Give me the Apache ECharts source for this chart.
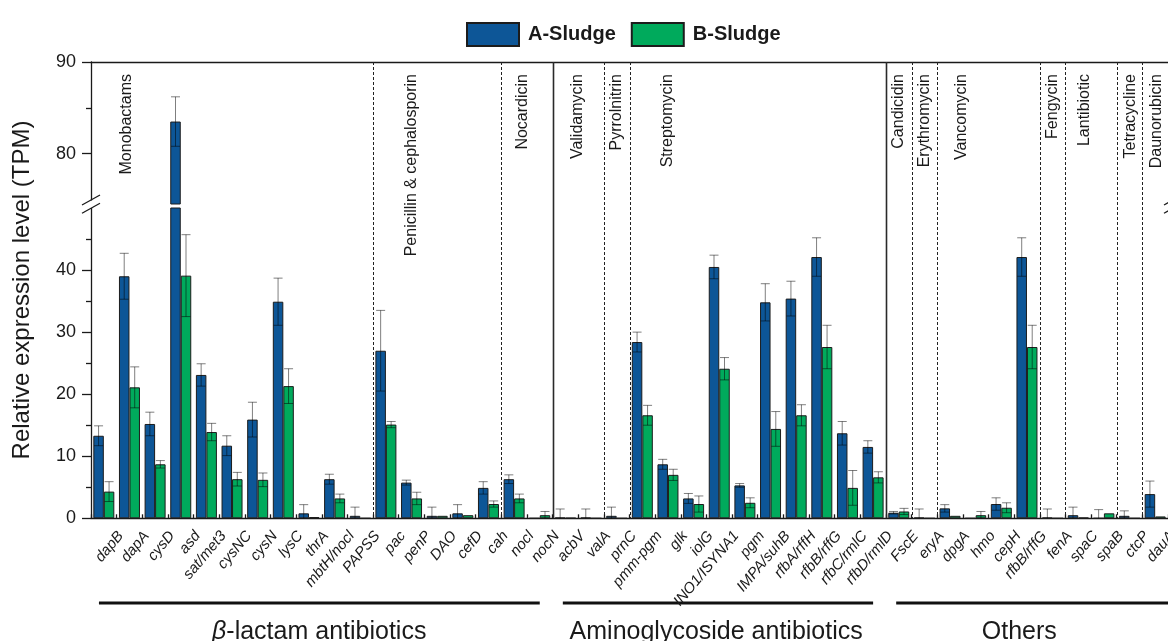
<!DOCTYPE html>
<html>
<head>
<meta charset="utf-8">
<script src="https://cdn.jsdelivr.net/npm/echarts@6/dist/echarts.min.js"></script>
<style>
  html, body { margin: 0; padding: 0; background: #fff; }
  #chart { width: 1168px; height: 641px; }
</style>
</head>
<body>
<div id="chart"></div>
<script>
// Genes (x categories)
const genes = [
  'dapB', 'dapA', 'cysD', 'asd', 'sat/met3', 'cysNC', 'cysN', 'lysC', 'thrA', 'mbtH/nocl', 'PAPSS',
  'pac', 'penP', 'DAO', 'cefD', 'cah',
  'nocl', 'nocN',
  'acbV', 'valA',
  'prnC',
  'pmm-pgm', 'glk', 'iolG', 'INO1/ISYNA1', 'pgm', 'IMPA/suhB', 'rfbA/rffH', 'rfbB/rffG', 'rfbC/rmlC', 'rfbD/rmlD',
  'FscE',
  'eryA',
  'dpgA', 'hmo', 'cepH', 'rfbB/rffG',
  'fenA',
  'spaC', 'spaB',
  'ctcP',
  'dauA'
];

// Relative expression level (TPM), mean and error
const sludgeA = [
  13.3, 39.0, 15.2, 83.5, 23.1, 11.7, 15.9, 34.9, 0.8, 6.3, 0.4,
  27.0, 5.75, 0.4, 0.8, 4.9,
  6.3, 0,
  0.1, 0.1,
  0.4,
  28.4, 8.7, 3.2, 40.5, 5.3, 34.8, 35.4, 42.1, 13.7, 11.5,
  0.9,
  0.1,
  1.6, 0, 2.3, 42.1,
  0.1,
  0.5, 0,
  0.4,
  3.9
];
const sludgeAErr = [
  1.6, 3.7, 1.9, 2.7, 1.8, 1.6, 2.8, 3.8, 1.4, 0.8, 1.4,
  6.5, 0.4, 1.4, 1.4, 1.0,
  0.7, 0,
  1.4, 1.4,
  1.4,
  1.6, 0.8, 0.8, 1.9, 0.3, 3.0, 2.8, 3.1, 1.9, 1.0,
  0.2,
  1.4,
  0.6, 0, 1.0, 3.1,
  1.4,
  1.3, 1.4,
  0.8,
  2.1
];
const sludgeB = [
  4.3, 21.1, 8.7, 39.1, 13.9, 6.3, 6.2, 21.3, 0.2, 3.2, 0,
  15.1, 3.2, 0.4, 0.5, 2.3,
  3.2, 0.5,
  0.05, 0,
  0,
  16.6, 7.0, 2.3, 24.1, 2.5, 14.4, 16.6, 27.6, 4.9, 6.6,
  1.1,
  0,
  0.4, 0.5, 1.7, 27.6,
  0,
  0.1, 0.8,
  0,
  0.3
];
const sludgeBErr = [
  1.6, 3.3, 0.6, 6.6, 1.4, 1.1, 1.1, 2.8, 0, 0.7, 0,
  0.5, 1.0, 0, 0, 0.5,
  0.7, 0.6,
  0, 0,
  0,
  1.6, 0.9, 1.3, 1.8, 0.8, 2.8, 1.7, 3.5, 2.8, 0.9,
  0.5,
  0,
  0, 0.6, 0.8, 3.5,
  0,
  0, 0,
  0,
  0
];

// Y ticks for the two parts of the broken axis
const lowerTicks = [0, 10, 20, 30, 40];
const lowerMinorTicks = [5, 15, 25, 35, 45];
const upperTicks = [80, 90];
const upperMinorTicks = [85];

// Antibiotic families: name, first gene index
const familyNames = ['Monobactams', 'Penicillin & cephalosporin', 'Nocardicin', 'Validamycin', 'Pyrrolnitrin',
  'Streptomycin', 'Candicidin', 'Erythromycin', 'Vancomycin', 'Fengycin', 'Lantibiotic', 'Tetracycline', 'Daunorubicin'];
const familyFirst = [0, 11, 16, 18, 20, 21, 31, 32, 33, 37, 38, 40, 41];

// Antibiotic classes
const classNames = ['β-lactam antibiotics', 'Aminoglycoside antibiotics', 'Others'];
const classFirst = [0, 18, 31];

// ---- layout ----
const GRID_LEFT = 91;
const PLOT_W = 1082;
const UPPER = { top: 62, bottom: 204, min: 74.5, max: 90 };
const LOWER = { top: 208, bottom: 518.3, min: 0, max: 50 };
const BAR_W = 10.5;
const BLUE = '#0d5697';
const GREEN = '#00aa5c';
const INK = '#1a1a1a';
const FONT = 'Arial, "Liberation Sans", Helvetica, sans-serif';
// caption position inside each family span, in category bands from the span start
const familyLabelOffset = [1.4, 1.5, 0.85, 0.98, 0.5, 1.48, 0.48, 0.5, 0.97, 0.5, 0.74, 0.53, 0.54];
// class bracket lines and caption centres, in category bands
const classLineStart = [0.31, 18.4, 31.4];
const classLineEnd = [17.5, 30.5, 44];
const classTextCentre = [8.9, 24.38, 36.2];

const chart = echarts.init(document.getElementById('chart'));

function errorBars(name, values, errs, side, axisIdx, yIdx) {
  const data = [];
  values.forEach((v, i) => { if (errs[i] > 0) data.push([i, v, errs[i]]); });
  return {
    type: 'custom',
    name: name,
    xAxisIndex: axisIdx,
    yAxisIndex: yIdx,
    clip: true,
    silent: true,
    z: 3,
    data: data,
    renderItem(params, api) {
      const i = api.value(0), v = api.value(1), e = api.value(2);
      const x = api.coord([i, v])[0] + side * BAR_W / 2;
      const yTop = api.coord([i, v + e])[1];
      const yBot = api.coord([i, v - e])[1];
      const cap = 4.5;
      const style = { stroke: 'rgba(0,0,0,0.5)', lineWidth: 1 };
      return {
        type: 'group',
        children: [
          { type: 'line', shape: { x1: x, y1: yTop, x2: x, y2: yBot }, style },
          { type: 'line', shape: { x1: x - cap, y1: yTop, x2: x + cap, y2: yTop }, style },
          { type: 'line', shape: { x1: x - cap, y1: yBot, x2: x + cap, y2: yBot }, style }
        ]
      };
    }
  };
}

function barSeries(name, values, color, axisIdx, yIdx, filterFn) {
  return {
    type: 'bar',
    name: name,
    xAxisIndex: axisIdx,
    yAxisIndex: yIdx,
    data: values.map(v => (filterFn(v) ? v : '-')),
    barWidth: BAR_W,
    barGap: '0%',
    itemStyle: { color: color, borderColor: '#1c1c1c', borderWidth: 1 },
    emphasis: { disabled: true },
    silent: true,
    z: 2
  };
}

const yAxisBase = (gridIndex, range, ticks, minor) => ([
  {
    type: 'value', gridIndex, position: 'left', min: range.min, max: range.max,
    axisLine: { show: true, lineStyle: { color: INK, width: 1.3 } },
    axisTick: { show: true, customValues: ticks, length: 9, lineStyle: { color: INK, width: 1.3 } },
    axisLabel: { customValues: ticks, fontSize: 18, color: INK, margin: 15, fontFamily: FONT },
    splitLine: { show: false }
  },
  {
    type: 'value', gridIndex, position: 'left', min: range.min, max: range.max,
    axisLine: { show: false },
    axisTick: { show: true, customValues: minor, length: 5, lineStyle: { color: INK, width: 1.3 } },
    axisLabel: { show: false },
    splitLine: { show: false }
  }
]);

const option = {
  animation: false,
  backgroundColor: '#fff',
  legend: {
    data: ['A-Sludge', 'B-Sludge'],
    left: 461,
    top: 17,
    itemWidth: 52,
    itemHeight: 23,
    itemGap: 15,
    icon: 'rect',
    selectedMode: false,
    textStyle: { fontSize: 20, fontWeight: 'bold', color: INK, fontFamily: FONT, padding: [0, 0, 0, 4] }
  },
  grid: [
    { left: GRID_LEFT, top: UPPER.top, width: PLOT_W, height: UPPER.bottom - UPPER.top, containLabel: false },
    { left: GRID_LEFT, top: LOWER.top, width: PLOT_W, height: LOWER.bottom - LOWER.top, containLabel: false }
  ],
  xAxis: [
    {
      type: 'category', gridIndex: 0, position: 'top', data: genes,
      axisLine: { show: true, lineStyle: { color: INK, width: 1.3 } },
      axisTick: { show: false }, axisLabel: { show: false }, splitLine: { show: false }
    },
    {
      type: 'category', gridIndex: 1, position: 'bottom', data: genes,
      axisLine: { show: true, lineStyle: { color: INK, width: 1.3 } },
      axisTick: { show: true, inside: true, length: 4, interval: 0, lineStyle: { color: INK, width: 1.3 } },
      axisLabel: { show: false }, splitLine: { show: false }
    }
  ],
  yAxis: [
    ...yAxisBase(0, UPPER, upperTicks, upperMinorTicks),
    ...yAxisBase(1, LOWER, lowerTicks, lowerMinorTicks)
  ],
  series: [
    barSeries('A-Sludge', sludgeA, BLUE, 0, 0, v => v > UPPER.min),
    barSeries('B-Sludge', sludgeB, GREEN, 0, 0, v => v > UPPER.min),
    barSeries('A-Sludge', sludgeA, BLUE, 1, 2, () => true),
    barSeries('B-Sludge', sludgeB, GREEN, 1, 2, () => true),
    errorBars('A-Sludge', sludgeA, sludgeAErr, -1, 0, 0),
    errorBars('B-Sludge', sludgeB, sludgeBErr, 1, 0, 0),
    errorBars('A-Sludge', sludgeA, sludgeAErr, -1, 1, 2),
    errorBars('B-Sludge', sludgeB, sludgeBErr, 1, 1, 2)
  ]
};

chart.setOption(option);

// ---- annotations placed on the category scale ----
const px = i => chart.convertToPixel({ xAxisIndex: 1 }, i);
const band = px(1) - px(0);
const bandX = u => px(0) - band / 2 + u * band;   // u counted in bands from the left edge
const graphics = [];

// family separators: solid at class boundaries, dotted otherwise
familyFirst.forEach(first => {
  if (first === 0) return;
  const x = Math.round(bandX(first)) + 0.5;
  const solid = classFirst.includes(first);
  graphics.push({
    type: 'line', silent: true, z: 1,
    shape: { x1: x, y1: UPPER.top, x2: x, y2: LOWER.bottom },
    style: solid ? { stroke: '#2a2a2a', lineWidth: 1.6 } : { stroke: '#222', lineWidth: 1, lineDash: [3, 2] }
  });
});

// family captions
familyNames.forEach((name, k) => {
  graphics.push({
    type: 'text', silent: true, z: 5,
    x: bandX(familyFirst[k] + familyLabelOffset[k]), y: 74,
    rotation: Math.PI / 2,
    style: { text: name, font: '16px ' + FONT, fill: INK, align: 'right', verticalAlign: 'middle' }
  });
});

// gene labels under the axis
genes.forEach((g, i) => {
  graphics.push({
    type: 'text', silent: true, z: 5,
    x: px(i) + 17, y: LOWER.bottom + 15,
    rotation: 50 * Math.PI / 180,
    style: { text: g, font: 'italic 15px ' + FONT, fill: INK, align: 'right', verticalAlign: 'middle' }
  });
});

// class brackets and captions
classNames.forEach((name, k) => {
  graphics.push({
    type: 'line', silent: true,
    shape: { x1: bandX(classLineStart[k]), y1: 603, x2: bandX(classLineEnd[k]), y2: 603 },
    style: { stroke: '#111', lineWidth: 3 }
  });
  const greek = name.startsWith('β');
  graphics.push({
    type: 'text', silent: true,
    x: bandX(classTextCentre[k]), y: 632,
    style: greek ? {
      text: '{g|β}' + name.slice(1),
      font: '25px ' + FONT, fill: INK, align: 'center', verticalAlign: 'middle',
      rich: { g: { fontStyle: 'italic', fontSize: 25, fontFamily: FONT, fill: INK } }
    } : { text: name, font: '25px ' + FONT, fill: INK, align: 'center', verticalAlign: 'middle' }
  });
});

// axis break marks, left axis and (mostly off-canvas) right frame
graphics.push({ type: 'rect', silent: true, z: 10, shape: { x: 87, y: 200.5, width: 8, height: 7.5 }, style: { fill: '#fff' } });
[82, 1164].forEach(x0 => {
  [0, 8.3].forEach(dy => {
    graphics.push({
      type: 'line', silent: true, z: 11,
      shape: { x1: x0, y1: 205 + dy, x2: x0 + 18, y2: 195 + dy },
      style: { stroke: INK, lineWidth: 1.3 }
    });
  });
});

// y-axis title
graphics.push({
  type: 'text', silent: true,
  x: 22, y: 290, rotation: Math.PI / 2,
  style: { text: 'Relative expression level (TPM)', font: '24px ' + FONT, fill: INK, align: 'center', verticalAlign: 'middle' }
});

chart.setOption({ graphic: graphics });
</script>
</body>
</html>
